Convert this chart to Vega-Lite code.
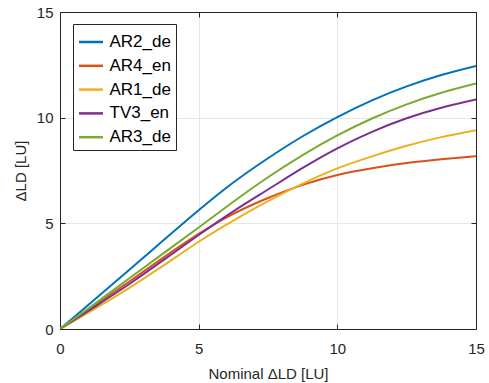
{
  "$schema": "https://vega.github.io/schema/vega-lite/v6.json",
  "width": 416,
  "height": 317,
  "autosize": {"type": "none"},
  "padding": {"left": 60, "top": 12, "right": 13, "bottom": 54},
  "background": "white",
  "config": {
    "font": "Liberation Sans",
    "view": {"stroke": null},
    "axis": {
      "domainColor": "#262626",
      "domainWidth": 1,
      "tickColor": "#262626",
      "tickSize": -5,
      "labelColor": "#262626",
      "labelFontSize": 15,
      "labelFlush": false,
      "titleColor": "#262626",
      "titleFontSize": 15,
      "titleFontWeight": "normal",
      "gridColor": "#e6e6e6",
      "gridWidth": 1
    }
  },
  "data": {
    "values": [
      {"x": 0, "y": 0, "s": "AR2_de"},
      {"x": 1.25, "y": 1.4, "s": "AR2_de"},
      {"x": 2.5, "y": 2.8, "s": "AR2_de"},
      {"x": 3.75, "y": 4.22, "s": "AR2_de"},
      {"x": 5, "y": 5.62, "s": "AR2_de"},
      {"x": 6.25, "y": 6.93, "s": "AR2_de"},
      {"x": 7.5, "y": 8.08, "s": "AR2_de"},
      {"x": 8.75, "y": 9.12, "s": "AR2_de"},
      {"x": 10, "y": 10.03, "s": "AR2_de"},
      {"x": 11.25, "y": 10.82, "s": "AR2_de"},
      {"x": 12.5, "y": 11.48, "s": "AR2_de"},
      {"x": 13.75, "y": 12.02, "s": "AR2_de"},
      {"x": 15, "y": 12.45, "s": "AR2_de"},

      {"x": 0, "y": 0, "s": "AR4_en"},
      {"x": 1.25, "y": 1.12, "s": "AR4_en"},
      {"x": 2.5, "y": 2.25, "s": "AR4_en"},
      {"x": 3.75, "y": 3.4, "s": "AR4_en"},
      {"x": 5, "y": 4.5, "s": "AR4_en"},
      {"x": 6.25, "y": 5.45, "s": "AR4_en"},
      {"x": 7.5, "y": 6.2, "s": "AR4_en"},
      {"x": 8.75, "y": 6.82, "s": "AR4_en"},
      {"x": 10, "y": 7.29, "s": "AR4_en"},
      {"x": 11.25, "y": 7.61, "s": "AR4_en"},
      {"x": 12.5, "y": 7.85, "s": "AR4_en"},
      {"x": 13.75, "y": 8.03, "s": "AR4_en"},
      {"x": 15, "y": 8.18, "s": "AR4_en"},

      {"x": 0, "y": 0, "s": "AR1_de"},
      {"x": 1.25, "y": 0.95, "s": "AR1_de"},
      {"x": 2.5, "y": 1.95, "s": "AR1_de"},
      {"x": 3.75, "y": 3.02, "s": "AR1_de"},
      {"x": 5, "y": 4.13, "s": "AR1_de"},
      {"x": 6.25, "y": 5.13, "s": "AR1_de"},
      {"x": 7.5, "y": 6.05, "s": "AR1_de"},
      {"x": 8.75, "y": 6.88, "s": "AR1_de"},
      {"x": 10, "y": 7.6, "s": "AR1_de"},
      {"x": 11.25, "y": 8.17, "s": "AR1_de"},
      {"x": 12.5, "y": 8.67, "s": "AR1_de"},
      {"x": 13.75, "y": 9.08, "s": "AR1_de"},
      {"x": 15, "y": 9.41, "s": "AR1_de"},

      {"x": 0, "y": 0, "s": "TV3_en"},
      {"x": 1.25, "y": 1.05, "s": "TV3_en"},
      {"x": 2.5, "y": 2.13, "s": "TV3_en"},
      {"x": 3.75, "y": 3.28, "s": "TV3_en"},
      {"x": 5, "y": 4.45, "s": "TV3_en"},
      {"x": 6.25, "y": 5.57, "s": "TV3_en"},
      {"x": 7.5, "y": 6.6, "s": "TV3_en"},
      {"x": 8.75, "y": 7.62, "s": "TV3_en"},
      {"x": 10, "y": 8.55, "s": "TV3_en"},
      {"x": 11.25, "y": 9.33, "s": "TV3_en"},
      {"x": 12.5, "y": 9.97, "s": "TV3_en"},
      {"x": 13.75, "y": 10.47, "s": "TV3_en"},
      {"x": 15, "y": 10.86, "s": "TV3_en"},

      {"x": 0, "y": 0, "s": "AR3_de"},
      {"x": 1.25, "y": 1.19, "s": "AR3_de"},
      {"x": 2.5, "y": 2.4, "s": "AR3_de"},
      {"x": 3.75, "y": 3.6, "s": "AR3_de"},
      {"x": 5, "y": 4.8, "s": "AR3_de"},
      {"x": 6.25, "y": 6.02, "s": "AR3_de"},
      {"x": 7.5, "y": 7.18, "s": "AR3_de"},
      {"x": 8.75, "y": 8.23, "s": "AR3_de"},
      {"x": 10, "y": 9.16, "s": "AR3_de"},
      {"x": 11.25, "y": 9.96, "s": "AR3_de"},
      {"x": 12.5, "y": 10.63, "s": "AR3_de"},
      {"x": 13.75, "y": 11.18, "s": "AR3_de"},
      {"x": 15, "y": 11.62, "s": "AR3_de"}
    ]
  },
  "layer": [
    {
      "mark": {"type": "line", "strokeWidth": 2, "interpolate": "natural", "clip": true},
      "encoding": {
        "x": {
          "field": "x", "type": "quantitative",
          "scale": {"domain": [0, 15], "nice": false},
          "axis": {"values": [0, 5, 10, 15], "title": "Nominal ΔLD [LU]", "labelPadding": 17, "titlePadding": 10, "grid": true}
        },
        "y": {
          "field": "y", "type": "quantitative",
          "scale": {"domain": [0, 15], "nice": false},
          "axis": {"values": [0, 5, 10, 15], "title": "ΔLD [LU]", "labelPadding": 12, "titlePadding": 8, "grid": true}
        },
        "color": {
          "field": "s", "type": "nominal",
          "scale": {
            "domain": ["AR2_de", "AR4_en", "AR1_de", "TV3_en", "AR3_de"],
            "range": ["#0072BD", "#D95319", "#EDB120", "#7E2F8E", "#77AC30"]
          },
          "legend": {
            "title": null,
            "orient": "none",
            "legendX": 13,
            "legendY": 12,
            "symbolType": "stroke",
            "symbolStrokeWidth": 2.5,
            "symbolSize": 576,
            "labelFontSize": 17,
            "labelColor": "#000000",
            "rowPadding": 1.8,
            "padding": 4.5,
            "fillColor": "white",
            "strokeColor": "#262626",
            "labelOffset": 5
          }
        }
      }
    },
    {
      "mark": {"type": "point", "opacity": 0},
      "encoding": {
        "x": {
          "field": "x", "type": "quantitative",
          "scale": {"domain": [0, 15], "nice": false},
          "axis": {"orient": "top", "values": [0, 5, 10, 15], "labels": false, "title": null, "grid": false}
        },
        "y": {
          "field": "y", "type": "quantitative",
          "scale": {"domain": [0, 15], "nice": false},
          "axis": {"orient": "right", "values": [0, 5, 10, 15], "labels": false, "title": null, "grid": false}
        }
      }
    }
  ],
  "resolve": {"axis": {"x": "independent", "y": "independent"}}
}
